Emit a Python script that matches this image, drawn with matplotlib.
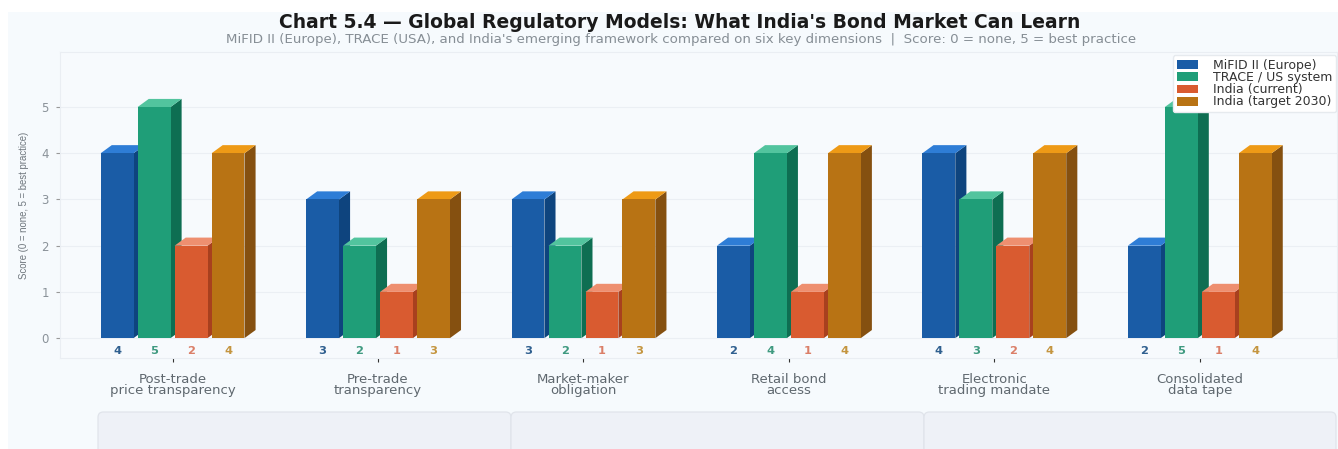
import matplotlib
matplotlib.use('Agg')
import matplotlib.pyplot as plt
from matplotlib.patches import FancyBboxPatch, Rectangle

W = 1338
H = 449

categories = ['Post-trade\nprice transparency', 'Pre-trade\ntransparency', 'Market-maker\nobligation',
              'Retail bond\naccess', 'Electronic\ntrading mandate', 'Consolidated\ndata tape']
mifid = [4, 3, 3, 2, 4, 2]
trace = [5, 2, 2, 4, 3, 5]
india_now = [2, 1, 1, 1, 2, 1]
india_2030 = [4, 3, 3, 4, 4, 4]

series = [
    ('MiFID II (Europe)', mifid, '#1A5CA6', '#2E7DD6', '#0E447E', '#2F5F8F'),
    ('TRACE / US system', trace, '#1F9E78', '#52C49E', '#0E6E52', '#3F9A80'),
    ('India (current)', india_now, '#D95B30', '#EE8F70', '#A8401E', '#DB7F68'),
    ('India (target 2030)', india_2030, '#B87314', '#EE9A16', '#855010', '#C4953F'),
]

fig = plt.figure(figsize=(W / 100, H / 100), dpi=100, facecolor='white')
# pale panel behind everything, starts a little in from the corner
fig.patches.append(Rectangle((8 / W, 0), 1 - 8 / W, 1 - 12 / H, transform=fig.transFigure,
                             facecolor='#F6FAFD', edgecolor='none', zorder=-5))

ax = fig.add_axes([60 / W, 1 - 358 / H, (1337 - 60) / W, (358 - 52) / H], facecolor='#F7FAFD')
ax.set_xlim(-0.548, 5.668)
ax.set_ylim(-0.43, 6.19)
ax.grid(axis='y', color='#EBEFF4', linewidth=0.8)
ax.set_axisbelow(True)

bar_w = 0.16
step = 0.18
depth_x = 0.054
depth_y = 0.175

for k, (name, vals, front, top, side, text_col) in enumerate(series):
    off = (k - 1.5) * step
    for i, v in enumerate(vals):
        z = 3 + k * 0.1
        x0 = i + off - bar_w / 2
        x1 = x0 + bar_w
        ax.fill([x1, x1 + depth_x, x1 + depth_x, x1], [0, depth_y, v + depth_y, v], color=side, lw=0, zorder=z)
        ax.fill([x0, x0 + depth_x, x1 + depth_x, x1], [v, v + depth_y, v + depth_y, v], color=top, lw=0, zorder=z)
        ax.bar(i + off, v, bar_w, color=front, linewidth=0, zorder=z + 0.01)
        ax.text(i + off, -0.28, str(v), ha='center', va='center', fontsize=8.2,
                fontweight='bold', color=text_col)
    ax.bar(0, 0, color=front, label=name)

ax.set_xticks(range(len(categories)))
ax.set_xticklabels(categories, fontsize=9.5, color='#5F686F', linespacing=0.78)
ax.set_yticks([0, 1, 2, 3, 4, 5])
ax.tick_params(axis='x', length=3, width=0.8, color='#333333', pad=8)
ax.tick_params(axis='y', length=3, width=0.8, color='#999999', labelcolor='#8A9299', labelsize=8.5, pad=5)
for s in ax.spines.values():
    s.set_color('#EAEEF3')
    s.set_linewidth(0.8)

fig.text(24 / W, 1 - 205 / H, 'Score (0 = none, 5 = best practice)', rotation=90, ha='center', va='center',
         fontsize=6.9, color='#6E767D', family='Liberation Sans')

fig.text(680 / W, 1 - 22 / H, "Chart 5.4 \u2014 Global Regulatory Models: What India's Bond Market Can Learn",
         ha='center', va='center', fontsize=13.5, fontweight='bold', color='#1A1A1A')
fig.text(681 / W, 1 - 40 / H,
         "MiFID II (Europe), TRACE (USA), and India's emerging framework compared on six key dimensions  |  Score: 0 = none, 5 = best practice",
         ha='center', va='center', fontsize=9.6, color='#868E95')

leg = ax.legend(loc='upper right', bbox_to_anchor=(1336 / W, 1 - 55 / H), bbox_transform=fig.transFigure,
                fontsize=9, frameon=True, fancybox=True, framealpha=1, facecolor='white', edgecolor='#E6EAEE',
                labelspacing=-0.06, handlelength=1.7, handleheight=0.7, handletextpad=1.2,
                borderaxespad=0, borderpad=0.3, labelcolor='#333333')
leg.set_zorder(20)

# empty note boxes cut off by the bottom edge
for left, right in [(98, 511), (511, 924), (924, 1336)]:
    fig.patches.append(FancyBboxPatch((left / W, -40 / H), (right - left) / W, (40 + 37) / H,
                                      boxstyle='round,pad=0,rounding_size=0.004', mutation_aspect=3,
                                      transform=fig.transFigure, facecolor='#EEF1F7', edgecolor='#E0E4EB',
                                      linewidth=0.9))

fig.savefig('out.png', dpi=100)
